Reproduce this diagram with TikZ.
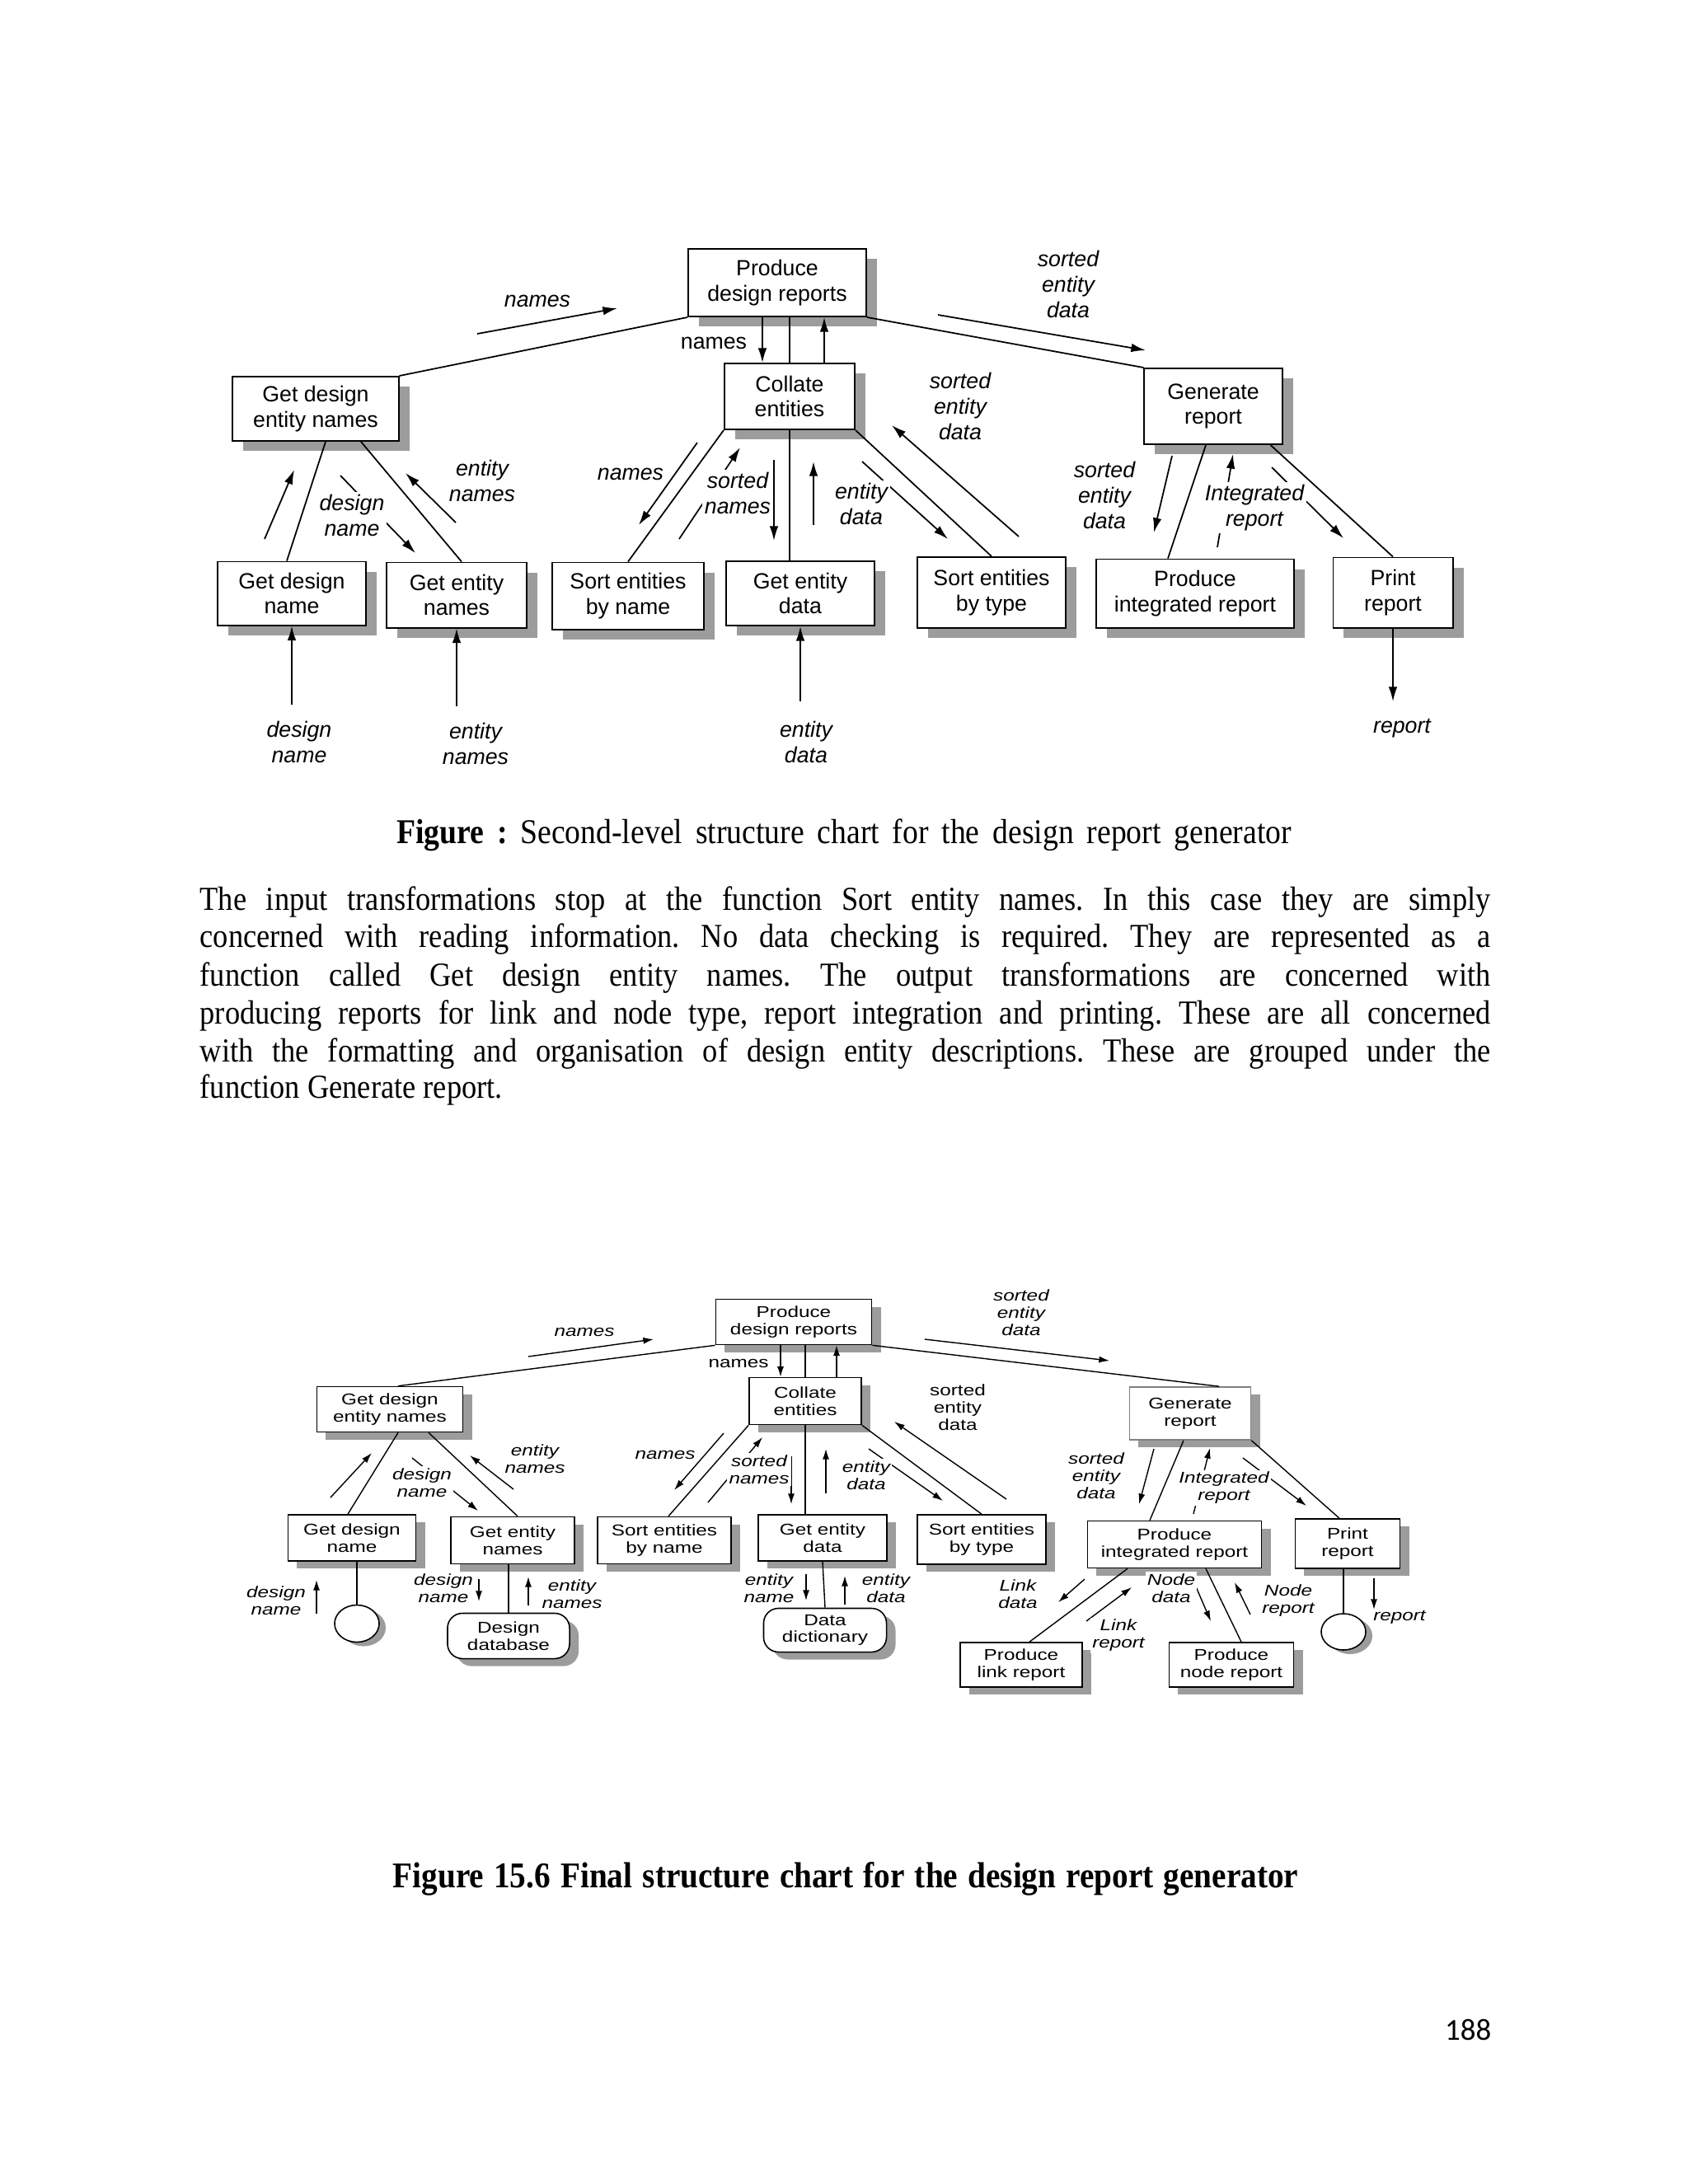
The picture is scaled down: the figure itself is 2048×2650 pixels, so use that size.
\documentclass[tikz,border=0pt]{standalone}
\usepackage{fontspec}
\setmainfont{Liberation Serif}
\newfontfamily\chartfont{Liberation Sans}
\newfontfamily\chartwide[FakeStretch=1.28]{Liberation Sans}
\newfontfamily\bodyfont[FakeStretch=0.893]{Liberation Serif}
\newfontfamily\pagefont{Carlito}
\usepackage{tikz}
\usetikzlibrary{shapes.geometric, arrows.meta, shadows, calc}
\definecolor{shadowgray}{HTML}{9C9C9C}
\frenchspacing

\begin{document}
\begin{tikzpicture}[
    x=0.01cm, y=-0.01cm,
    modA/.style={rectangle, draw, line width=0.55pt, fill=white, inner sep=0pt,
                 align=center, font=\fontsize{7.6}{8.6}\selectfont\chartfont,
                 drop shadow={shadow xshift=0.13cm, shadow yshift=-0.12cm, fill=shadowgray, opacity=1}},
    modB/.style={rectangle, draw, line width=0.45pt, fill=white, inner sep=0pt,
                 align=center, font=\fontsize{5.4}{5.9}\selectfont\chartwide,
                 drop shadow={shadow xshift=0.11cm, shadow yshift=-0.09cm, fill=shadowgray, opacity=1}},
    storeB/.style={modB, rounded corners=0.18cm},
    termB/.style={ellipse, draw, line width=0.45pt, fill=white, inner sep=0pt,
                 drop shadow={shadow xshift=0.08cm, shadow yshift=-0.05cm, fill=shadowgray, opacity=1}},
    flowA/.style={line width=0.5pt},
    flowB/.style={line width=0.4pt},
    coupleA/.style={-{Latex[length=5pt,width=3pt]}, line width=0.5pt},
    coupleB/.style={-{Latex[length=3.6pt,width=2.3pt]}, line width=0.4pt},
    lblA/.style={fill=white, inner sep=0.8pt, align=center, font=\fontsize{7.6}{8.8}\selectfont\chartfont\itshape},
    lblupA/.style={lblA, font=\fontsize{7.6}{8.8}\selectfont\chartfont},
    lblB/.style={fill=white, inner sep=0.6pt, align=center, font=\fontsize{5.4}{6}\selectfont\chartwide\itshape},
    lblupB/.style={lblB, font=\fontsize{5.4}{6}\selectfont\chartwide},
    bodyline/.style={anchor=base west, inner sep=0pt, font=\fontsize{11.6}{13}\selectfont\bodyfont},
    caption/.style={anchor=base, inner sep=0pt, font=\fontsize{12}{14}\selectfont\bodyfont}
]
\fill[white] (0,0) rectangle (2048,2650);
\useasboundingbox (0,0) rectangle (2048,2650);

% ---------- second-level chart ----------
\node[modA, minimum width=2.16cm, minimum height=0.82cm] (pdrA) at (943,343) {Produce\\design reports};
\node[modA, minimum width=1.58cm, minimum height=0.80cm] (colA) at (958,481) {Collate\\entities};
\node[modA, minimum width=2.01cm, minimum height=0.78cm] (gdenA) at (383,496) {Get design\\entity names};
\node[modA, minimum width=1.67cm, minimum height=0.92cm] (genA) at (1472,493) {Generate\\report};
\node[modA, minimum width=1.79cm, minimum height=0.77cm] (gdnA) at (354,720) {Get design\\name};
\node[modA, minimum width=1.70cm, minimum height=0.79cm] (gentA) at (554,722) {Get entity\\names};
\node[modA, minimum width=1.83cm, minimum height=0.81cm] (sbnA) at (762,723) {Sort entities\\by name};
\node[modA, minimum width=1.79cm, minimum height=0.78cm] (gedA) at (971,720) {Get entity\\data};
\node[modA, minimum width=1.79cm, minimum height=0.86cm] (sbtA) at (1203,719) {Sort entities\\by type};
\node[modA, minimum width=2.40cm, minimum height=0.83cm] (pirA) at (1450,720) {Produce\\integrated report};
\node[modA, minimum width=1.45cm, minimum height=0.85cm] (prA) at (1690,719) {Print\\report};

% structure lines
\draw[flowA] (pdrA.south west) -- (gdenA.north east);
\draw[flowA] (colA.north |- pdrA.south) -- (colA.north);
\draw[flowA] (pdrA.south east) -- (genA.north west);
\draw[flowA] ($(gdenA.south)+(12,0)$) -- ($(gdnA.north)+(-6,0)$);
\draw[flowA] ($(gdenA.south)+(55,0)$) -- ($(gentA.north)+(6,0)$);
\draw[flowA] (colA.south west) -- (sbnA.north);
\draw[flowA] (colA.south) -- (colA.south |- gedA.north);
\draw[flowA] (colA.south east) -- (sbtA.north);
\draw[flowA] ($(genA.south)+(-9,0)$) -- ($(pirA.north)+(-33,0)$);
\draw[flowA] ($(genA.south east)+(-15,0)$) -- (prA.north);

% data couples
\coordinate (cA1s) at (579,405);   \coordinate (cA1e) at (749,374);
\coordinate (cA4s) at (1138,382);  \coordinate (cA4e) at (1390,425);
\coordinate (cA5s) at (321,654);   \coordinate (cA5e) at (357,570);
\coordinate (cA6s) at (413,577);   \coordinate (cA6e) at (504,671);
\coordinate (cA7s) at (553,634);   \coordinate (cA7e) at (492,574);
\coordinate (cA8s) at (846,537);   \coordinate (cA8e) at (775,637);
\coordinate (cA9s) at (824,654);   \coordinate (cA9e) at (898,543);
\coordinate (cA10s) at (939,558);  \coordinate (cA10e) at (939,656);
\coordinate (cA11s) at (987,637);  \coordinate (cA11e) at (987,560);
\coordinate (cA12s) at (1046,560); \coordinate (cA12e) at (1150,654);
\coordinate (cA13s) at (1236,651); \coordinate (cA13e) at (1082,516);
\coordinate (cA14s) at (1422,553); \coordinate (cA14e) at (1400,646);
\coordinate (cA15s) at (1477,664); \coordinate (cA15e) at (1496,551);
\coordinate (cA16s) at (1543,567); \coordinate (cA16e) at (1630,653);
\coordinate (inA1) at (354,855);
\coordinate (inA2) at (554,857);
\coordinate (inA3) at (971,851);
\coordinate (outA1) at (1690,851);

\draw[coupleA] (cA1s) -- (cA1e);
\draw[coupleA] ($(pdrA.south)+(-18,0)$) -- ($(colA.north)+(-33,0)$);
\draw[coupleA] ($(colA.north)+(42,0)$) -- ($(pdrA.south)+(57,0)$);
\draw[coupleA] (cA4s) -- (cA4e);
\draw[coupleA] (cA5s) -- (cA5e);
\draw[coupleA] (cA6s) -- (cA6e);
\draw[coupleA] (cA7s) -- (cA7e);
\draw[coupleA] (cA8s) -- (cA8e);
\draw[coupleA] (cA9s) -- (cA9e);
\draw[coupleA] (cA10s) -- (cA10e);
\draw[coupleA] (cA11s) -- (cA11e);
\draw[coupleA] (cA12s) -- (cA12e);
\draw[coupleA] (cA13s) -- (cA13e);
\draw[coupleA] (cA14s) -- (cA14e);
\draw[coupleA] (cA15s) -- (cA15e);
\draw[coupleA] (cA16s) -- (cA16e);
\draw[coupleA] (inA1) -- (gdnA.south);
\draw[coupleA] (inA2) -- (gentA.south);
\draw[coupleA] (inA3) -- (gedA.south);
\draw[coupleA] (prA.south) -- (outA1);

% labels
\node[lblA] (tnmA) at (652,365) {names};
\node[lblupA] (tnm2A) at (866,416) {names};
\node[lblA] (tsedA) at (1296,345) {sorted\\entity\\data};
\node[lblA] (tdnA) at (427,625) {design\\name};
\node[lblA] (tenA) at (585,583) {entity\\names};
\node[lblA] (tnm3A) at (765,575) {names};
\node[lblA] (tsnA) at (895,598) {sorted\\names};
\node[lblA] (tedA) at (1045,611) {entity\\data};
\node[lblA] (tsed2A) at (1165,493) {sorted\\entity\\data};
\node[lblA] (tsed3A) at (1340,601) {sorted\\entity\\data};
\node[lblA] (tirA) at (1522,616) {Integrated\\report};
\node[lblA] (tdn2A) at (363,900) {design\\name};
\node[lblA] (ten2A) at (577,902) {entity\\names};
\node[lblA] (ted2A) at (978,900) {entity\\data};
\node[lblA] (trA) at (1701,884) {report};

% ---------- text ----------
\node[caption] (capA) at (1024,1023) {\makebox[10.85cm][s]{\bfseries Figure : \mdseries Second-level structure chart for the design report generator}};

\node[bodyline] (ln1) at (242,1104) {\makebox[15.65cm][s]{The input transformations stop at the function Sort entity names. In this case they are simply}};
\node[bodyline] (ln2) at (242,1149) {\makebox[15.65cm][s]{concerned with reading information. No data checking is required. They are represented as a}};
\node[bodyline] (ln3) at (242,1196) {\makebox[15.65cm][s]{function called Get design entity names. The output transformations are concerned with}};
\node[bodyline] (ln4) at (242,1242) {\makebox[15.65cm][s]{producing reports for link and node type, report integration and printing. These are all concerned}};
\node[bodyline] (ln5) at (242,1288) {\makebox[15.65cm][s]{with the formatting and organisation of design entity descriptions. These are grouped under the}};
\node[bodyline] (ln6) at (242,1332) {function Generate report.};

% ---------- final chart ----------
\node[modB, minimum width=1.89cm, minimum height=0.55cm] (pdrB) at (963,1604) {Produce\\design reports};
\node[modB, minimum width=1.36cm, minimum height=0.57cm] (colB) at (977,1700) {Collate\\entities};
\node[modB, minimum width=1.77cm, minimum height=0.55cm] (gdenB) at (473,1710) {Get design\\entity names};
\node[modB, minimum width=1.47cm, minimum height=0.64cm, draw=gray] (genB) at (1444,1715) {Generate\\report};
\node[modB, minimum width=1.55cm, minimum height=0.56cm] (gdnB) at (427,1866) {Get design\\name};
\node[modB, minimum width=1.50cm, minimum height=0.57cm] (gentB) at (622,1869) {Get entity\\names};
\node[modB, minimum width=1.62cm, minimum height=0.57cm] (sbnB) at (806,1869) {Sort entities\\by name};
\node[modB, minimum width=1.56cm, minimum height=0.56cm] (gedB) at (998,1866) {Get entity\\data};
\node[modB, minimum width=1.56cm, minimum height=0.60cm] (sbtB) at (1191,1868) {Sort entities\\by type};
\node[modB, minimum width=2.11cm, minimum height=0.57cm] (pirB) at (1425,1874) {Produce\\integrated report};
\node[modB, minimum width=1.27cm, minimum height=0.60cm] (prB) at (1635,1873) {Print\\report};
\node[modB, minimum width=1.48cm, minimum height=0.54cm] (plrB) at (1239,2020) {Produce\\link report};
\node[modB, minimum width=1.51cm, minimum height=0.54cm] (pnrB) at (1494,2020) {Produce\\node report};
\node[storeB, minimum width=1.48cm, minimum height=0.55cm] (ddbB) at (617,1985) {Design\\database};
\node[storeB, minimum width=1.49cm, minimum height=0.53cm] (ddB) at (1001,1978) {Data\\dictionary};
\node[termB, minimum width=0.54cm, minimum height=0.45cm] (endB1) at (433,1970) {};
\node[termB, minimum width=0.54cm, minimum height=0.44cm] (endB2) at (1630,1980) {};

% structure lines
\draw[flowB] (pdrB.south west) -- ($(gdenB.north)+(10,0)$);
\draw[flowB] (colB.north |- pdrB.south) -- (colB.north);
\draw[flowB] (pdrB.south east) -- ($(genB.north)+(35,0)$);
\draw[flowB] ($(gdenB.south)+(10,0)$) -- ($(gdnB.north)+(-5,0)$);
\draw[flowB] ($(gdenB.south)+(47,0)$) -- ($(gentB.north)+(6,0)$);
\draw[flowB] (colB.south west) -- ($(sbnB.north)+(5,0)$);
\draw[flowB] (colB.south) -- (colB.south |- gedB.north);
\draw[flowB] (colB.south east) -- (sbtB.north);
\draw[flowB] ($(genB.south)+(-8,0)$) -- ($(pirB.north)+(-30,0)$);
\draw[flowB] (genB.south east) -- ($(prB.north)+(-10,0)$);
\draw[flowB] (endB1.north |- gdnB.south) -- (endB1.north);
\draw[flowB] (ddbB.north |- gentB.south) -- (ddbB.north);
\draw[flowB] (gedB.south) -- (ddB.north);
\draw[flowB] (endB2.north |- prB.south) -- (endB2.north);
\draw[flowB] ($(pirB.south)+(-57,0)$) -- ($(plrB.north)+(10,0)$);
\draw[flowB] ($(pirB.south)+(38,0)$) -- ($(pnrB.north)+(12,0)$);

% data couples
\coordinate (cB1s) at (641,1646);   \coordinate (cB1e) at (793,1625);
\coordinate (cB4s) at (1122,1625);  \coordinate (cB4e) at (1346,1651);
\coordinate (cB5s) at (401,1817);   \coordinate (cB5e) at (451,1763);
\coordinate (cB6s) at (500,1769);   \coordinate (cB6e) at (580,1833);
\coordinate (cB7s) at (623,1807);   \coordinate (cB7e) at (570,1766);
\coordinate (cB8s) at (878,1739);   \coordinate (cB8e) at (818,1808);
\coordinate (cB9s) at (859,1823);   \coordinate (cB9e) at (925,1744);
\coordinate (cB10s) at (960,1767);  \coordinate (cB10e) at (960,1825);
\coordinate (cB11s) at (1002,1812); \coordinate (cB11e) at (1002,1758);
\coordinate (cB12s) at (1054,1758); \coordinate (cB12e) at (1144,1821);
\coordinate (cB13s) at (1221,1819); \coordinate (cB13e) at (1085,1725);
\coordinate (cB14s) at (1400,1758); \coordinate (cB14e) at (1382,1825);
\coordinate (cB15s) at (1448,1837); \coordinate (cB15e) at (1468,1757);
\coordinate (cB16s) at (1508,1769); \coordinate (cB16e) at (1585,1827);
\coordinate (cB17s) at (384,1958);  \coordinate (cB17e) at (384,1917);
\coordinate (cB18s) at (581,1916);  \coordinate (cB18e) at (581,1943);
\coordinate (cB19s) at (641,1948);  \coordinate (cB19e) at (641,1913);
\coordinate (cB20s) at (978,1910);  \coordinate (cB20e) at (978,1942);
\coordinate (cB21s) at (1025,1947); \coordinate (cB21e) at (1025,1912);
\coordinate (cB22s) at (1667,1915); \coordinate (cB22e) at (1667,1953);
\coordinate (cB23s) at (1316,1916); \coordinate (cB23e) at (1284,1944);
\coordinate (cB24s) at (1318,1967); \coordinate (cB24e) at (1373,1926);
\coordinate (cB25s) at (1450,1923); \coordinate (cB25e) at (1469,1967);
\coordinate (cB26s) at (1517,1959); \coordinate (cB26e) at (1498,1920);

\draw[coupleB] (cB1s) -- (cB1e);
\draw[coupleB] ($(pdrB.south)+(-16,0)$) -- ($(colB.north)+(-30,0)$);
\draw[coupleB] ($(colB.north)+(38,0)$) -- ($(pdrB.south)+(52,0)$);
\draw[coupleB] (cB4s) -- (cB4e);
\draw[coupleB] (cB5s) -- (cB5e);
\draw[coupleB] (cB6s) -- (cB6e);
\draw[coupleB] (cB7s) -- (cB7e);
\draw[coupleB] (cB8s) -- (cB8e);
\draw[coupleB] (cB9s) -- (cB9e);
\draw[coupleB] (cB10s) -- (cB10e);
\draw[coupleB] (cB11s) -- (cB11e);
\draw[coupleB] (cB12s) -- (cB12e);
\draw[coupleB] (cB13s) -- (cB13e);
\draw[coupleB] (cB14s) -- (cB14e);
\draw[coupleB] (cB15s) -- (cB15e);
\draw[coupleB] (cB16s) -- (cB16e);
\draw[coupleB] (cB17s) -- (cB17e);
\draw[coupleB] (cB18s) -- (cB18e);
\draw[coupleB] (cB19s) -- (cB19e);
\draw[coupleB] (cB20s) -- (cB20e);
\draw[coupleB] (cB21s) -- (cB21e);
\draw[coupleB] (cB22s) -- (cB22e);
\draw[coupleB] (cB23s) -- (cB23e);
\draw[coupleB] (cB24s) -- (cB24e);
\draw[coupleB] (cB25s) -- (cB25e);
\draw[coupleB] (cB26s) -- (cB26e);

% labels
\node[lblB] (tnmB) at (709,1616) {names};
\node[lblupB] (tnm2B) at (896,1654) {names};
\node[lblB] (tsedB) at (1239,1593) {sorted\\entity\\data};
\node[lblB] (tdnB) at (512,1799) {design\\name};
\node[lblB] (tenB) at (649,1770) {entity\\names};
\node[lblB] (tnm3B) at (807,1765) {names};
\node[lblB] (tsnB) at (921,1783) {sorted\\names};
\node[lblB] (tedB) at (1051,1790) {entity\\data};
\node[lblupB] (tsed2B) at (1162,1708) {sorted\\entity\\data};
\node[lblB] (tsed3B) at (1330,1791) {sorted\\entity\\data};
\node[lblB] (tirB) at (1485,1805) {Integrated\\report};
\node[lblB] (tdn2B) at (335,1942) {design\\name};
\node[lblB] (tdn3B) at (538,1927) {design\\name};
\node[lblB] (ten2B) at (694,1934) {entity\\names};
\node[lblB] (ten3B) at (933,1927) {entity\\name};
\node[lblB] (ted2B) at (1075,1927) {entity\\data};
\node[lblB] (trB) at (1698,1962) {report};
\node[lblB] (tldB) at (1235,1934) {Link\\data};
\node[lblB] (tlrB) at (1357,1984) {Link\\report};
\node[lblB] (tndB) at (1421,1927) {Node\\data};
\node[lblB] (tnrB) at (1563,1942) {Node\\report};

\node[caption, font=\fontsize{12.5}{14}\selectfont\bodyfont\bfseries] (capB) at (1026,2290) {\makebox[10.98cm][s]{Figure 15.6 Final structure chart for the design report generator}};

\node[anchor=base east, inner sep=0pt, font=\fontsize{10.5}{12}\selectfont\pagefont] (pageno) at (1810,2475) {188};

\end{tikzpicture}
\end{document}
